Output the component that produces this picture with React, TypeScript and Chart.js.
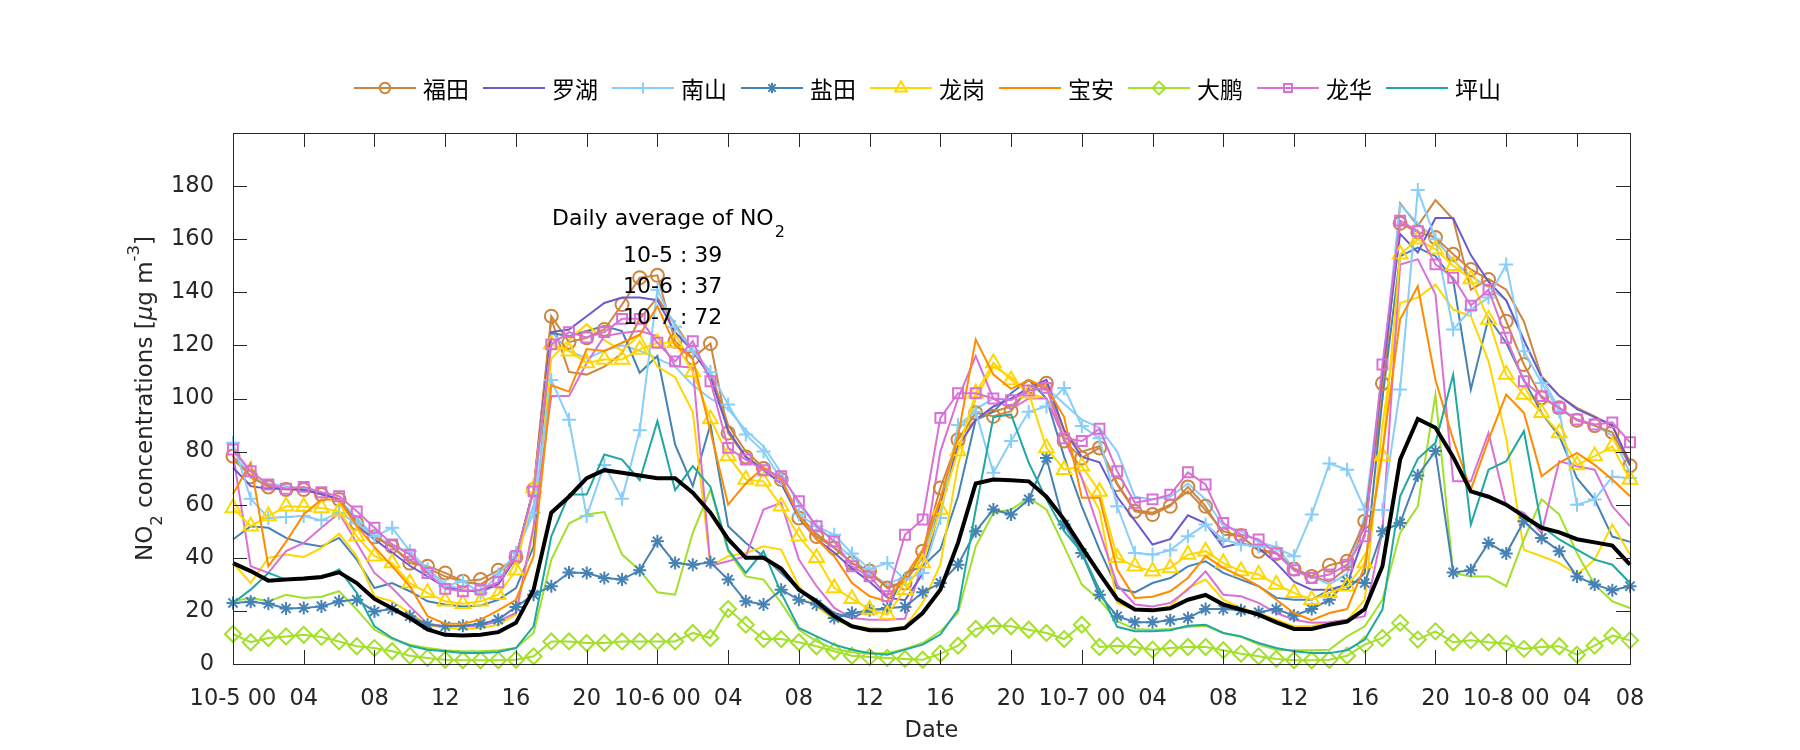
import React, { useEffect, useRef } from 'react';
import { Chart, registerables } from 'chart.js';
import { drawPoint } from 'chart.js/helpers';

Chart.register(...registerables);

// ---------- data ----------
const TICK_HOURS = [0, 4, 8, 12, 16, 20, 24, 28, 32, 36, 40, 44, 48, 52, 56, 60, 64, 68, 72, 76, 79];
const TICK_LABELS = ['10-5 00', '04', '08', '12', '16', '20', '10-6 00', '04', '08', '12', '16', '20', '10-7 00', '04', '08', '12', '16', '20', '10-8 00', '04', '08'];
const Y_TICKS = [0, 20, 40, 60, 80, 100, 120, 140, 160, 180];

const DAILY_DATES = ['10-5', '10-6', '10-7'];
const DAILY_AVG = [39, 37, 72];

const FUTIAN = [78.3, 70.5, 66.7, 65.7, 65.7, 63.8, 62, 53, 47.9, 44.3, 38, 36.8, 34.3, 31.2, 31.8, 35.3, 40.2, 65.7, 131, 121.2, 122.9, 126, 135.4, 145.5,
  146.4, 121.6, 115.3, 120.7, 87, 78, 73.6, 69.5, 55, 48, 43.7, 38, 35, 28.6, 30.5, 42.5, 66.3, 84.5, 94.6, 93.3, 95.2, 104.4, 105.7, 84,
  77.6, 81.4, 67.6, 57.5, 56.3, 59.4, 66.7, 59.4, 48.7, 48.4, 42.5, 41.6, 35.8, 33, 37.2, 38.7, 53.8, 105.7, 166, 162.7, 160.6, 154.3, 148.6, 144.8,
  129.1, 112.8, 100.3, 96.5, 91.8, 89.8, 87.3, 74.7];
const LUOHU = [74, 67, 66, 66, 65.5, 64, 62, 52, 47, 42, 37, 33, 29, 27.5, 27.5, 30, 40, 66, 125, 126, 131, 136, 138, 138,
  137, 125, 118, 108, 88, 78, 73, 68, 55, 47, 42, 36, 31, 25, 24, 34, 60, 82, 92, 97, 100, 104, 107, 88,
  78, 76, 63, 54, 45, 47, 56, 53, 44, 45.6, 43.7, 38, 31, 28, 28, 30, 49, 110, 162, 155, 168, 168, 154, 144,
  137, 122, 108, 101, 96, 93, 90, 75];
const NANSHAN = [83.3, 62.2, 55, 55.4, 55.7, 54.1, 57, 53, 48, 51.3, 42.5, 35.6, 29.3, 31.2, 26.8, 33.7, 41.8, 57, 107, 92, 55.7, 75, 62.2, 88,
  141, 127, 118, 110, 97.7, 86.4, 80, 69.5, 56.3, 51.9, 48.7, 41.6, 35.8, 38, 31.8, 34.3, 55, 90, 95, 72, 84, 95, 97, 104,
  89.6, 85, 59.4, 41.8, 41.2, 42.8, 48.1, 52.5, 46.9, 45, 44.3, 43.7, 40.6, 56.3, 75.5, 73.2, 58.2, 58, 103.4, 178.5, 160, 126, 133.5, 138,
  150.5, 117.8, 105.8, 95.2, 60, 62, 70.5, 70.1];
const YANTIAN = [23, 23.4, 22.7, 20.9, 21.1, 21.7, 23.6, 24.2, 19.8, 20.7, 18, 14.8, 14.2, 14.4, 15.2, 16.7, 21.5, 26.1, 29.3, 34.5, 34.3, 32.4, 31.8, 35.3,
  46.2, 38, 37.4, 38.3, 31.8, 23.6, 22.4, 28, 24.2, 22.4, 17.3, 19.2, 20.2, 21.1, 21.5, 27, 30.5, 37.4, 50, 58.2, 56.3, 62, 77.6, 52.5,
  41.8, 26.1, 18, 15.7, 15.7, 16.5, 17.3, 20.7, 20.7, 20.2, 19.5, 20.7, 18.2, 20.7, 24.2, 31.2, 30.5, 50, 53.1, 71, 80.2, 34.5, 35.3, 45.6,
  41.6, 53.8, 47.5, 42.5, 33, 29.9, 27.8, 29.3];
const LONGGANG = [58.8, 51.9, 55.7, 59.4, 59.2, 58.8, 57.5, 48.1, 40.6, 38, 30.5, 26.8, 23.6, 22.7, 23.6, 26.1, 35.3, 66.3, 120.4, 117.8, 113.4, 114.7, 114.7, 118.5,
  121, 121, 110, 92.3, 78.3, 69.5, 68.8, 59.4, 48.1, 40, 28.6, 24.6, 20.5, 18.6, 28, 38, 58.2, 80.2, 102, 113.4, 107, 102, 81.4, 73.2,
  74.5, 65, 40, 36.8, 34.9, 36.2, 41.2, 42.5, 38, 35, 33.7, 29.9, 26.8, 24.2, 26.8, 29.3, 38, 78.3, 154.3, 160, 156.2, 150, 145, 129.8,
  109, 101.5, 94.6, 87, 75, 78.3, 82, 69.5];
const BAOAN = [64, 75.8, 36.8, 46, 56.3, 62, 62, 52, 44, 36.8, 29.3, 18, 15.2, 15.2, 16.7, 20.2, 24.2, 40.6, 105, 102.6, 118.6, 117.9, 121, 124,
  134.8, 120, 115, 87.7, 60, 68, 74, 69.5, 55.7, 47, 40.6, 30.5, 25.5, 23.6, 33, 43, 62, 85.8, 122.2, 109, 103.6, 106.8, 104.3, 93,
  62.6, 62.6, 35.6, 24.9, 25.3, 27.4, 32.4, 40.6, 36.2, 33, 29.3, 24.2, 19.2, 16.5, 19.2, 20.7, 36.8, 80, 129.8, 142.3, 107, 84.5, 65.7, 84.5,
  101.5, 94.6, 70.7, 75.8, 79.5, 75, 69.5, 63.2];
const DAPENG = [11.3, 8.2, 9.8, 10.4, 11, 10.2, 8.5, 6.7, 6, 4.8, 3.1, 2.3, 1.6, 1.4, 1.4, 1.4, 1.6, 2.9, 8.5, 8.5, 7.9, 7.9, 8.5, 8.5,
  8.5, 8.5, 11.7, 9.8, 20.7, 14.8, 9.4, 9.4, 8.2, 6.7, 4.8, 3.1, 2.6, 2.3, 1.9, 1.6, 3.9, 6.9, 13.2, 14.4, 14.2, 12.9, 11.7, 9.4,
  14.8, 6.4, 6.9, 6.4, 5.4, 6, 6.4, 6.4, 5.2, 3.9, 2.9, 1.9, 1.4, 1.4, 1.6, 3.1, 7.3, 9.8, 15.5, 9.2, 12.3, 8.2, 8.9, 8.2,
  7.7, 5.7, 6.4, 6.7, 3.5, 6.9, 10.7, 8.9];
const LONGHUA = [80.8, 72.6, 67.6, 66, 66.7, 64.7, 63.2, 57.5, 51.3, 45, 41.2, 34.3, 28.3, 27.4, 28, 30.8, 40.6, 65, 120.4, 125, 123, 125, 130, 130,
  121, 114, 121.6, 106.5, 81.4, 77, 73, 70.7, 61.3, 51.9, 46.2, 36.8, 33, 25.5, 48.7, 54.4, 92.7, 102, 102, 100, 99.4, 103, 104, 85,
  84, 88.6, 72.6, 60.7, 62, 63.8, 72.2, 67.6, 53.1, 48.7, 46.9, 41.6, 35.3, 32.4, 33.7, 37.4, 48.1, 112.8, 167, 163, 150.5, 145.5, 135, 141,
  122.9, 106.5, 100.9, 96.5, 92.1, 90.2, 91, 83.5];
const PINGSHAN = [23, 28, 34.3, 31.8, 31.8, 32.4, 35.6, 26.8, 14.2, 9.8, 6.9, 5.4, 4.8, 4.1, 4.1, 4.5, 6, 14.2, 48.1, 63.8, 63.8, 78.9, 77, 69.2,
  91.5, 65.5, 74.5, 66.7, 43.1, 34.3, 42.5, 26.8, 13.6, 10.4, 7.3, 5.4, 4.1, 3.5, 5.4, 7.3, 11.1, 20.5, 58.2, 93, 94, 75.8, 62, 50,
  42, 28, 14, 12.3, 12.3, 12.7, 14.4, 14.8, 11.7, 10.4, 7.9, 6, 4.8, 4.1, 4.1, 5.2, 9.2, 20.5, 63.2, 77.3, 83.3, 109, 52.5, 73.2,
  76.4, 87.7, 51.9, 46.9, 43.1, 39.3, 37.4, 30.5];

// additional station series (same district colours, not in legend)
const FUTIAN_B = [77, 71, 67, 66, 66, 64, 62, 54, 48, 44, 39, 36, 33, 31, 30, 34, 40, 66, 130, 110, 109, 112, 117, 130,
  138, 128, 118, 110, 90, 80, 74, 70, 56, 49, 44, 38, 34, 29, 31, 40, 62, 85, 92, 95, 97, 103, 106, 88,
  80, 82, 68, 58, 57, 60, 65, 58, 50, 48, 43, 42, 36, 33, 31, 36, 52, 100, 173.5, 165, 174.7, 167.5, 141, 145,
  141, 129, 108.4, 101, 96.5, 93.3, 89.6, 76];
const NANSHAN_B = [82, 70, 68, 67, 66, 64, 62, 55, 48, 45, 42, 36, 30, 28, 27, 30, 40, 60, 125, 118, 115, 118, 120, 118,
  115, 112, 105, 100, 96, 88, 82, 72, 60, 52, 46, 40, 34, 30, 33, 40, 60, 88, 96, 100, 96, 103, 104, 98,
  92, 89, 80, 63, 62, 63, 68, 62, 52, 50, 46, 44, 36, 33, 30, 34, 56, 110, 173, 166, 160, 152, 146, 142,
  137, 122, 108, 96, 92, 90, 86, 72];
const YANTIAN_B = [46.9, 51.9, 51.3, 47.5, 45.4, 44.3, 47.5, 39.3, 28.6, 30.5, 27.4, 23.6, 22.4, 21.7, 22, 24.2, 28.6, 44.3, 124.7, 123.5, 125.4, 127.3, 125.4, 109.7,
  116, 82.7, 67, 90.2, 51.9, 45.6, 40.6, 34.3, 28, 24.2, 19.2, 17.3, 20.5, 20.5, 34.3, 36.8, 43.1, 63.2, 92, 95, 102, 107, 100, 78,
  59.4, 43.1, 28.6, 27, 30.5, 32.4, 36.8, 38.7, 34.3, 31.8, 29.3, 24.9, 24.2, 24.2, 28, 28, 34.3, 100, 153.6, 156.8, 153.6, 144.8, 103.4, 130.4,
  121, 107, 94.6, 85.8, 70, 62, 48, 46];
const LONGGANG_B = [38, 30.5, 40, 41.2, 40.3, 43.7, 49.1, 40.6, 25.5, 23.6, 19.2, 14.8, 13.6, 13.2, 13.6, 14.8, 18.6, 50.6, 115, 122, 128, 122, 118, 124,
  112, 108, 95, 37, 40.6, 41.8, 44.3, 43.1, 29.3, 21.7, 16.7, 14.2, 13.6, 13.2, 13.9, 23, 37.4, 75, 100, 112, 108, 102, 100, 88,
  70, 58, 23, 20.5, 20.5, 21.7, 28.6, 31.8, 24.2, 21.1, 19.2, 16.7, 14.2, 14.2, 15.7, 16.5, 24.2, 90, 136, 138, 143, 133.5, 131, 114,
  85, 43, 40.6, 38, 33.7, 39.3, 52.5, 41.2];
const DAPENG_B = [23.6, 24.9, 23.6, 26.1, 24.9, 25.3, 27.4, 20.5, 12.9, 9.4, 7.3, 6, 5.2, 4.8, 4.8, 5.2, 6, 11.7, 39.3, 52.9, 56.3, 57.2, 41.2, 35.3,
  27, 26.1, 49.4, 65.7, 42.5, 33, 31.8, 23, 12.9, 8.5, 5.7, 4.4, 3.9, 4.1, 5.7, 7.9, 12.3, 19.2, 44.3, 56.9, 58.2, 62.6, 58.2, 44.3,
  29.9, 24.2, 16.1, 13.2, 12.9, 13.2, 13.9, 14.4, 11.7, 10.2, 7.3, 5.4, 5.2, 5.2, 5.4, 10.4, 14.2, 24.2, 49.4, 59.4, 101.5, 34.3, 33, 33,
  29.3, 46.9, 62, 56.3, 41.8, 29.9, 23.6, 21.1];
const LONGHUA_B = [79, 36.8, 34.3, 42.5, 45.6, 51.3, 56.9, 45.6, 34.3, 28.6, 21.7, 15.2, 14.2, 14.2, 14.4, 16.1, 19.2, 51.9, 100.9, 100.9, 113.4, 123.5, 124.7, 125.4,
  123.5, 112.2, 111.6, 37, 38.7, 40.6, 58.2, 60.7, 39.3, 29.3, 21.1, 17.3, 16.7, 16.7, 17, 38, 80, 100, 116, 100, 96, 100, 100, 85,
  70, 50, 29.9, 22.4, 21.7, 23, 28, 34.9, 26.1, 25.5, 23, 19.2, 16.7, 15.5, 15.7, 16.7, 18, 50, 150.5, 152.4, 139.2, 68.8, 68.8, 87,
  59.4, 56.9, 49.4, 76.4, 74.5, 73.2, 59.4, 51.9];
const CITY_AVG = [38, 35, 31.4, 31.8, 32.2, 32.8, 34.5, 30.5, 24.5, 21, 17.3, 13, 11, 10.7, 11, 12, 15.5, 28, 57, 63, 70, 73, 72, 71,
  70, 70, 64.5, 57, 47, 40, 40, 36, 28, 23.6, 18, 14.2, 12.7, 12.7, 13.6, 19.2, 28, 45.6, 68, 69.5, 69.2, 68.8, 63, 54.4,
  44, 34, 24.5, 20.5, 20.2, 21, 24.2, 26, 22.4, 20.5, 18.6, 15.7, 13.2, 13.2, 14.8, 16, 20.7, 36.8, 77, 92.3, 89, 78, 65, 63,
  60, 55.6, 51.3, 49.6, 47, 45.8, 44.6, 37.4];

// ---------- styles ----------
const AXIS_COLOR = '#262626';
const FONT = 'DejaVu Sans';
const CJK = '"Noto Sans CJK SC"';

type S = { name: string; data: number[]; color: string; style: any; radius: number; legend: boolean; width: number };
const SERIES: S[] = [
  { name: '福田B', data: FUTIAN_B, color: '#CD853F', style: false, radius: 0, legend: false, width: 2 },
  { name: '南山B', data: NANSHAN_B, color: '#87CEFA', style: false, radius: 0, legend: false, width: 2 },
  { name: '盐田B', data: YANTIAN_B, color: '#4682B4', style: false, radius: 0, legend: false, width: 2 },
  { name: '龙岗B', data: LONGGANG_B, color: '#FFD700', style: false, radius: 0, legend: false, width: 2 },
  { name: '大鹏B', data: DAPENG_B, color: '#A2E02A', style: false, radius: 0, legend: false, width: 2 },
  { name: '龙华B', data: LONGHUA_B, color: '#DA70D6', style: false, radius: 0, legend: false, width: 2 },
  { name: '福田', data: FUTIAN, color: '#CD853F', style: 'circle', radius: 6.5, legend: true, width: 2 },
  { name: '罗湖', data: LUOHU, color: '#6A5ACD', style: false, radius: 0, legend: true, width: 2 },
  { name: '南山', data: NANSHAN, color: '#87CEFA', style: 'cross', radius: 7, legend: true, width: 2 },
  { name: '盐田', data: YANTIAN, color: '#4682B4', style: 'star', radius: 6.5, legend: true, width: 2 },
  { name: '龙岗', data: LONGGANG, color: '#FFD700', style: 'triangle', radius: 8.5, legend: true, width: 2 },
  { name: '宝安', data: BAOAN, color: '#FF8C00', style: false, radius: 0, legend: true, width: 2 },
  { name: '大鹏', data: DAPENG, color: '#A2E02A', style: 'rectRot', radius: 8, legend: true, width: 2 },
  { name: '龙华', data: LONGHUA, color: '#DA70D6', style: 'rect', radius: 7, legend: true, width: 2 },
  { name: '坪山', data: PINGSHAN, color: '#20A8A0', style: false, radius: 0, legend: true, width: 2 },
  { name: 'avg', data: CITY_AVG, color: '#000000', style: false, radius: 0, legend: false, width: 4 },
];

const decorPlugin = {
  id: 'decor',
  afterDraw(chart: any) {
    const ctx = chart.ctx as CanvasRenderingContext2D;
    const { left, right, top, bottom } = chart.chartArea;
    const xs = chart.scales.x;
    const ys = chart.scales.y;
    ctx.save();
    // box
    ctx.strokeStyle = AXIS_COLOR;
    ctx.lineWidth = 1;
    ctx.strokeRect(Math.round(left) + 0.5, Math.round(top) + 0.5, Math.round(right - left), Math.round(bottom - top));
    // inward ticks
    const TL = 14;
    ctx.beginPath();
    TICK_HOURS.forEach((h) => {
      const x = Math.round(xs.getPixelForValue(h)) + 0.5;
      ctx.moveTo(x, bottom); ctx.lineTo(x, bottom - TL);
      ctx.moveTo(x, top); ctx.lineTo(x, top + TL);
    });
    Y_TICKS.forEach((v) => {
      const y = Math.round(ys.getPixelForValue(v)) + 0.5;
      ctx.moveTo(left, y); ctx.lineTo(left + TL, y);
      ctx.moveTo(right, y); ctx.lineTo(right - TL, y);
    });
    ctx.stroke();

    // x title
    ctx.fillStyle = AXIS_COLOR;
    ctx.font = `22.5px ${FONT}`;
    ctx.textAlign = 'center';
    ctx.textBaseline = 'middle';
    ctx.fillText('Date', (left + right) / 2, 731);

    // y title (rotated, with sub/superscript)
    const fs = 23;
    const parts = [
      { t: 'NO', size: fs, dy: 0, italic: false },
      { t: '2', size: fs * 0.72, dy: 12, italic: false },
      { t: ' concentrations [', size: fs, dy: 0, italic: false },
      { t: 'μ', size: fs, dy: 0, italic: true },
      { t: 'g m', size: fs, dy: 0, italic: false },
      { t: '-3', size: fs * 0.72, dy: -11, italic: false },
      { t: ']', size: fs, dy: 0, italic: false },
    ];
    let total = 0;
    const widths = parts.map((p) => {
      ctx.font = `${p.italic ? 'italic ' : ''}${p.size}px ${FONT}`;
      const w = ctx.measureText(p.t).width;
      total += w;
      return w;
    });
    ctx.save();
    ctx.translate(146, (top + bottom) / 2);
    ctx.rotate(-Math.PI / 2);
    ctx.textAlign = 'left';
    let cx = -total / 2;
    parts.forEach((p, i) => {
      ctx.font = `${p.italic ? 'italic ' : ''}${p.size}px ${FONT}`;
      ctx.fillText(p.t, cx, p.dy);
      cx += widths[i];
    });
    ctx.restore();

    // annotation
    ctx.fillStyle = '#000000';
    ctx.textAlign = 'left';
    ctx.font = `22px ${FONT}`;
    const head = 'Daily average of NO';
    ctx.fillText(head, 552, 219);
    const hw = ctx.measureText(head).width;
    ctx.font = `16px ${FONT}`;
    ctx.fillText('2', 552 + hw + 1, 233);
    ctx.font = `22px ${FONT}`;
    DAILY_DATES.forEach((d, i) => {
      ctx.fillText(`${d} : ${DAILY_AVG[i]}`, 623, 256 + i * 31);
    });

    // legend
    const ly = 88;
    let lx = 354;
    SERIES.filter((s) => s.legend).forEach((s) => {
      ctx.strokeStyle = s.color;
      ctx.lineWidth = 2;
      ctx.beginPath();
      ctx.moveTo(lx, ly);
      ctx.lineTo(lx + 62, ly);
      ctx.stroke();
      if (s.style) {
        ctx.fillStyle = 'rgba(0,0,0,0)';
        drawPoint(ctx, { pointStyle: s.style, radius: s.radius * 0.8, borderWidth: 2, rotation: 0 } as any, lx + 31, ly);
      }
      ctx.fillStyle = '#000000';
      ctx.font = `23px ${CJK}`;
      ctx.textBaseline = 'middle';
      ctx.fillText(s.name, lx + 69, ly + 1);
      const tw = ctx.measureText(s.name).width;
      lx += 62 + 7 + tw + 14;
    });
    ctx.restore();
  },
};

export default function App() {
  const ref = useRef<HTMLCanvasElement | null>(null);
  useEffect(() => {
    document.body.style.margin = '0';
    const canvas = ref.current!;
    const chart = new Chart(canvas, {
      type: 'line',
      data: {
        datasets: SERIES.map((s, i) => ({
          label: s.name,
          data: s.data.map((v, h) => ({ x: h, y: v })),
          borderColor: s.color,
          backgroundColor: 'rgba(0,0,0,0)',
          borderWidth: s.width,
          pointStyle: s.style,
          pointRadius: s.style ? s.radius : 0,
          pointBorderWidth: 2,
          pointBorderColor: s.color,
          pointBackgroundColor: 'rgba(0,0,0,0)',
          tension: 0,
          fill: false,
          clip: false as any,
          order: SERIES.length - i,
        })),
      },
      options: {
        animation: false,
        responsive: false,
        devicePixelRatio: 1,
        events: [],
        layout: { padding: { left: 0, top: 133, right: 170, bottom: 0 } },
        plugins: { legend: { display: false }, tooltip: { enabled: false } },
        scales: {
          x: {
            type: 'linear',
            min: 0,
            max: 79,
            grid: { display: false },
            border: { display: false },
            afterBuildTicks: (scale: any) => { scale.ticks = TICK_HOURS.map((v) => ({ value: v })); },
            afterFit: (scale: any) => { scale.height = 86; },
            ticks: {
              autoSkip: false,
              maxRotation: 0,
              padding: 14,
              color: AXIS_COLOR,
              font: { family: FONT, size: 22.5 },
              callback: (v: any) => TICK_LABELS[TICK_HOURS.indexOf(Number(v))] ?? '',
            },
          },
          y: {
            min: 0,
            max: 200,
            grid: { display: false },
            border: { display: false },
            afterBuildTicks: (scale: any) => { scale.ticks = Y_TICKS.map((v) => ({ value: v })); },
            afterFit: (scale: any) => { scale.width = 233; },
            ticks: {
              padding: 11,
              color: AXIS_COLOR,
              font: { family: FONT, size: 22.5 },
            },
          },
        },
      },
      plugins: [decorPlugin],
    });
    return () => chart.destroy();
  }, []);
  return (
    <div style={{ width: 1800, height: 750, background: '#fff' }}>
      <canvas ref={ref} width={1800} height={750} style={{ display: 'block' }} />
    </div>
  );
}
